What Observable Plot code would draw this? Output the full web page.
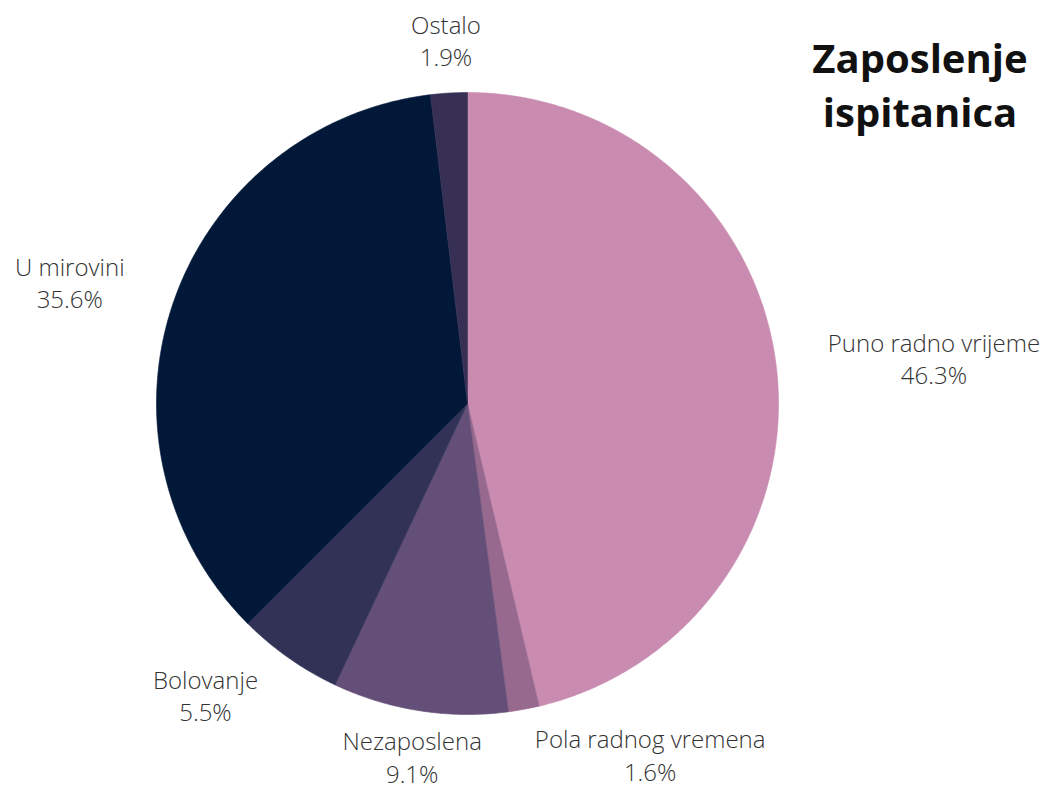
<!DOCTYPE html>
<html>
<head>
<meta charset="utf-8">
<script src="https://cdn.jsdelivr.net/npm/d3@7"></script>
<script src="https://cdn.jsdelivr.net/npm/@observablehq/plot@0.6"></script>
<style>
  html, body { margin: 0; padding: 0; background: #fff; }
  #wrap { position: relative; width: 1048px; height: 787px; overflow: hidden; }
  #title { position: absolute; left: 790px; width: 260px; top: 31px; text-align: center;
    font-family: "Open Sans", sans-serif; font-weight: 700; font-size: 40px; line-height: 54px; color: #111; }
</style>
</head>
<body>
<div id="wrap">
  <div id="chart"></div>
  <div id="title">Zaposlenje<br>ispitanica</div>
</div>
<script>
const categories = ["Puno radno vrijeme", "Pola radnog vremena", "Nezaposlena", "Bolovanje", "U mirovini", "Ostalo"];
const values = [46.3, 1.6, 9.1, 5.5, 35.6, 1.9];
const valueLabels = ["46.3%", "1.6%", "9.1%", "5.5%", "35.6%", "1.9%"];
const colors = ["#c98bb0", "#97698f", "#634f77", "#313256", "#011838", "#382f55"];

const W = 1048, H = 787;
const mL = 156, mR = 270, mT = 92, mB = 73;
const pxPerUnit = (W - mL - mR) / 2;
const labelSize = 24;
const labelFont = `300 ${labelSize}px "Open Sans"`;
const labelR = 1.16;

const pie = d3.pie().sort(null).value(d => d.value)(categories.map((c, i) => ({name: c, value: values[i], label: valueLabels[i], color: colors[i]})));

// wedge outlines (geometry along the arc of each slice)
const wedges = [];
pie.forEach(s => {
  const a0 = s.startAngle, a1 = s.endAngle;
  const n = Math.max(2, Math.ceil((a1 - a0) / 0.01));
  wedges.push({name: s.data.name, x: 0, y: 0});
  for (let k = 0; k <= n; k++) {
    const a = a0 + (a1 - a0) * k / n;
    wedges.push({name: s.data.name, x: Math.sin(a), y: Math.cos(a)});
  }
  wedges.push({name: s.data.name, x: 0, y: 0});
});

const ctx = document.createElement("canvas").getContext("2d");
ctx.font = labelFont;
const labels = pie.map(s => {
  const mid = (s.startAngle + s.endAngle) / 2;
  const ax = labelR * Math.sin(mid), ay = labelR * Math.cos(mid);
  const w = Math.max(ctx.measureText(s.data.name).width, ctx.measureText(s.data.label).width);
  const sn = Math.sin(mid);
  const side = Math.abs(sn) < 0.17 ? 0 : Math.sign(sn);
  return {text: s.data.name + "\n" + s.data.label, x: ax + side * (w / 2 + 2) / pxPerUnit, y: ay};
});

const chart = Plot.plot({
  width: W, height: H,
  marginLeft: mL, marginRight: mR, marginTop: mT, marginBottom: mB,
  x: {domain: [-1, 1], axis: null},
  y: {domain: [-1, 1], axis: null},
  color: {domain: categories, range: colors},
  style: {fontFamily: '"Open Sans", sans-serif', background: "#fff"},
  marks: [
    Plot.line(wedges, {x: "x", y: "y", z: "name", fill: "name", stroke: "name", strokeWidth: 0.6, curve: "linear"}),
    Plot.text(labels, {x: "x", y: "y", text: "text", textAnchor: "middle", lineAnchor: "middle", lineHeight: 1.36,
      dy: -4, fontSize: labelSize, fontWeight: 300, fill: "#333"})
  ]
});
document.getElementById("chart").appendChild(chart);
</script>
</body>
</html>
